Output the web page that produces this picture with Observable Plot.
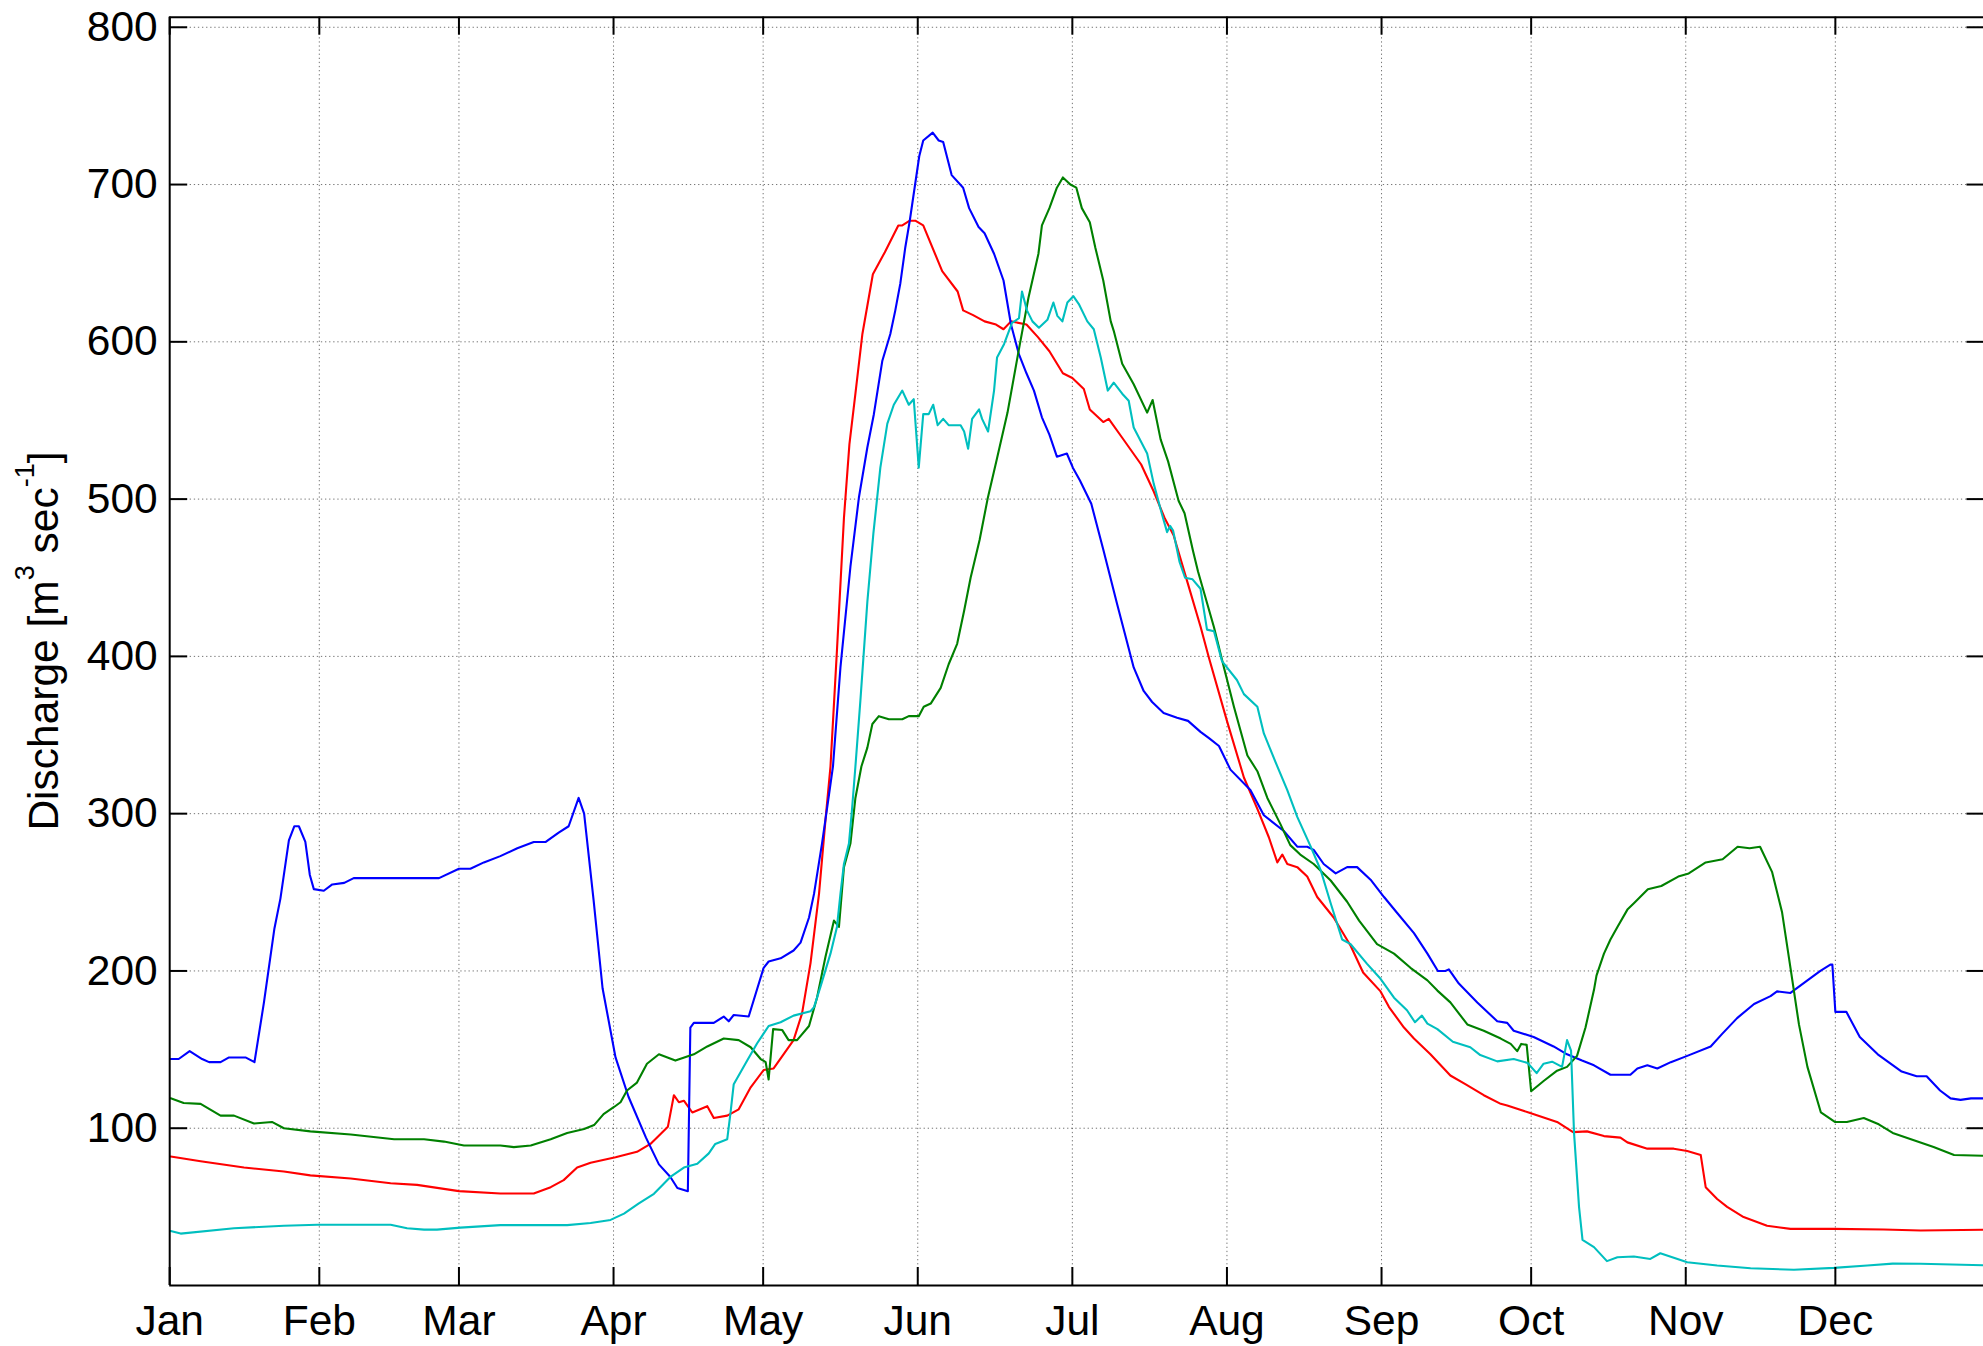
<!DOCTYPE html>
<html>
<head>
<meta charset="utf-8">
<script src="https://cdn.jsdelivr.net/npm/d3@7"></script>
<script src="https://cdn.jsdelivr.net/npm/@observablehq/plot@0.6"></script>
<style>
  html, body { margin: 0; padding: 0; background: #fff; }
  svg { display: block; }
</style>
</head>
<body>
<script>
// ---- Data (day of year, discharge m3/s) ----
const monthTicks = [1, 31, 59, 90, 120, 151, 182, 213, 244, 274, 305, 335];
const monthLabels = ["Jan","Feb","Mar","Apr","May","Jun","Jul","Aug","Sep","Oct","Nov","Dec"];
const yTicks = [100, 200, 300, 400, 500, 600, 700, 800];
const seriesNames = ["Series 1", "Series 2", "Series 3", "Series 4"];

const s1Days = [1.2,2.8,5,7.5,8.9,11.2,12.9,16.2,18,19.9,22,23.2,24.9,26,26.9,28.2,29.1,29.9,31.9,33.6,36,37.9,55,59,61.3,64,67.3,70.7,74,76.4,79,81,83,84.1,86,87.8,90.4,93,96.5,99.1,101.4,102.8,104.9,105.4,106.1,110.1,112.1,113.1,114.1,117.1,120.1,121.1,123.5,126.1,127.5,129.2,130.2,131.8,133.2,134,135.5,137.5,139.2,140.9,142.2,143.9,145.5,146.5,147.5,148.5,149.4,151.3,152.1,154,155.2,156.1,157.8,160.1,161.3,163.2,164.4,166.3,168.2,169.7,171.3,172.8,174.3,175.9,177.4,178.9,180.9,182.1,183.5,185.8,188.2,191,194.3,196.3,198,200.3,203,205.2,207.7,209.4,211.4,213.7,217.7,220.4,224.4,227.1,229.1,230.4,232.4,234.8,237.1,239.1,241.8,244.5,247.1,250.5,253.2,255.3,256.8,257.5,259.5,263.2,267.2,269.2,270.5,274.5,278.5,281.2,284.2,286.6,289.9,293.9,295.3,297.3,299.3,302,305.3,310,312.3,315.3,318.7,322,323.3,326,329.4,332,334,334.4,335,337.2,339.9,343.5,348.3,351.3,353.3,356,358.1,360.1,362.2,365];
const s1Values = [144,144,149,144,142,142,145,145,142,180,227,246,283,292,292,282,261,252,251,255,256,259,259,265,265,269,273,278,282,282,288,292,310,300,245,189,145,120,94,77,69,62,60,164,167,167,171,168,172,171,202,206,208,213,218,234,249,281,312,330,393,457,501,533,554,588,605,620,637,660,677,718,728,733,728,727,706,698,685,673,669,656,639,611,592,580,569,552,541,527,529,520,512,497,468,433,393,378,371,364,361,359,352,348,343,328,315,299,289,279,279,277,268,262,266,266,258,247,237,224,211,200,200,201,192,180,168,167,162,158,152,147,143,140,134,134,138,140,138,142,146,152,160,170,179,184,187,186,194,200,204,204,174,174,158,147,136,133,133,124,119,118,119,119];

const s2Days = [1.2,7.2,15.9,23.9,29.2,37.3,45.3,50.6,59,67.3,74,77.4,80,82.7,85.4,90.4,94.7,97.4,100.9,102.1,103.1,104.1,105.8,108.8,110.1,112.8,115.1,117.5,120.1,122.1,126.1,127.8,129.5,131.2,132.5,133.5,134.8,136.2,137.3,138.5,139.9,142,144.4,147.1,147.9,149.4,150.5,152.1,155.9,159,160.1,162.1,164.4,166.7,168.2,169.7,172.8,175.1,177.4,180.1,182,184.3,185.5,188.2,189.3,192,195.8,198.3,200.5,202.3,205,207.7,209.4,213,216.4,219.1,221.4,223.1,224.1,225.1,227.1,229.1,231.1,234.4,237.8,240.3,243.8,245.5,248.5,250.5,253.8,257.8,260.8,264.5,267.9,269.2,273.5,279.2,282.4,285.2,288.6,291.9,293.3,297.3,302.6,305.3,308,309,311.3,313.3,316.6,321.3,326,334.7,344.7,352.1,365];
const s2Values = [82,79,75,72.5,70,68,65,64,60,58.5,58.5,62.5,67,75,78,81.5,85,90,101,121,116.5,117.5,110,114,106.5,108,112,126,137,138,156,173,205,249,296,330,404,488,535,567,605,643,657,674,674,677,677,674,645,632,620,617,613,611,608,613,611,603,594,580,577,570,557,549,551,539,522,505,488,477,448,419,399,359,323,303,285,269,274,268,266,260,247,234,216,199,187,177,164,157,147,133.5,128,121,115.5,114.4,110,104,97.5,98,95,94,91,87,87,85.5,83,62.5,55,50,43.5,38,36,36,35.6,35,35.5];

const s3Days = [1.2,3.8,7.2,11.2,13.9,17.9,21.5,23.9,29.2,37.3,46,52,56,60,67.3,70,73.4,77.4,80.7,84.1,86.1,88,90.1,91.4,92.7,94.7,96.7,99.1,102.4,106.1,108.8,112.1,115.1,117.5,119.5,120.5,121.1,122,123.8,125.1,126.8,129.2,130.8,132.5,134.2,135.2,136.2,137.5,138.5,139.7,140.9,141.9,143.2,145.2,147.9,149.2,151.2,152.2,153.6,155.6,157.2,158.9,160.3,161.6,163.4,165,166.9,169,171.1,173.2,175.2,175.9,177.4,178.9,180.1,181.6,182.8,183.9,185.5,186.6,188.2,189.7,190.3,192,194.3,197,198.1,199.7,201.2,203.3,204.5,206.2,207.2,210.4,212.4,214.4,217.1,219.1,221.1,223.7,225.7,227.7,230.4,233.8,237.1,239.5,243.1,246.5,249.8,253.2,255.2,257.8,261.2,264.5,267.9,269.9,271.2,272,273.1,274,276.5,279.2,281.2,283.2,284.9,286.6,287.1,288.6,289.9,291.3,293.3,294.6,297.4,300.1,303.5,305.6,309,312.4,315.4,317.8,319.9,322.3,324.3,326,327.7,329.4,332.1,334.9,337.3,340.7,343.7,346.5,350.6,354.7,358.8,365];
const s3Values = [119,116,115.5,108,108,103,104,100,98,96,93,93,91.5,89,89,88,89,93,97,99.5,102,109,113.5,116.5,124,129,141,147,143,147,152,157,156,151.5,144,142,131,163,162.5,156,156,165,183,209,232,228,266,281,310,330,342,357,362,360,360,362,362,368,370,380,395,408,429,450,474,500,526,555,592,628,656,674,685,698,704.5,700,698,685,676,660,639,613,607,586,573,555,563,538,524,499,491,467,454,418.5,393,368,337,327,310,293.5,280,274,268,257.5,244,232,217,211,202,194,187.5,180,166,162,157,153.6,149,153.6,153,123.5,130,136.6,139,146,164,188,197,211,220,228,239,243,252,254,260,262,269,271,279,278,279,263,237.5,202,166,139,110,104,104,106.5,102.5,97,92.5,88,83,82.5];

const s4Days = [1.2,3.2,13.9,23.9,30.6,45.3,48.6,52,54.6,59.3,67.3,80.7,85.4,89.4,92.1,95,98.1,101.4,104.1,106.8,109.1,110.4,112.8,113.5,114.1,116.8,118.8,121.1,123.5,126.1,129.5,130.2,131.5,133.5,134.8,135.5,136.2,137.2,137.8,138.5,139.5,140.9,142.1,143.5,144.9,146.2,147.9,149.2,150.2,151.2,152.1,153.2,154.1,155,156.1,157.2,159.6,160.3,161.1,161.9,163.3,163.9,165.1,166.3,166.9,168.3,169.9,171.3,171.9,172.9,174,175.3,177,178.2,179,180,181,182.2,183.3,185,186.3,187.7,189.1,190.3,192,193.3,194.3,197,198.3,200,201,201.6,202.2,203.5,204.6,206.1,207.7,209,210.4,212,215,216.4,219.1,220.4,223.1,225.1,227.1,229.8,231.8,233.8,236.1,237.8,241.1,243.8,246.5,249.1,250.7,252.1,253.2,255.2,258.3,261.8,263.8,267.2,270.5,273.3,275.1,276.5,278.2,280.2,281.2,282,282.6,283.6,284.3,286.6,289.2,291.3,294.6,297.9,299.9,302.6,305.3,311.3,318,326.7,334.7,341.4,346.5,352.1,365];
const s4Values = [34.6,33,36.4,38,38.6,38.6,36.4,35.5,35.5,36.8,38.4,38.4,39.7,41.7,45.7,52,58.3,69,75,77.4,84,90,93,111,128,143,154,165,167.4,171.6,174.4,177,190,211,228,249,268,281,302,330,372,435,478,520,548,560,569,560,563.5,520,554,554,560,547,551,547,547,543,532,551,557,551,543,569,590,598.5,612,615,632,620,613,609,614,625,616.5,613,625,629,624,613,608,590,569,574,567,562.5,545.5,529,510,490,479,483,480,460,450,449,443,417,416,397,385,376,368,351,330,315,298,279,264,243,220,217,204.5,195,183,175,167.4,171.6,166.5,163,155,151.5,146.5,142.5,144,141.5,135,141,142.3,139,156,149.3,97,50,29,24.4,15.5,18,18.4,16.9,20.5,17.6,14.8,12.7,11,10,11.2,12.7,13.9,13.8,12.8];

// ---- Build table ----
const rows = [];
[[s1Days, s1Values], [s2Days, s2Values], [s3Days, s3Values], [s4Days, s4Values]]
  .forEach(([days, vals], k) => days.forEach((d, i) => rows.push({series: seriesNames[k], day: d, value: vals[i]})));
const drawOrder = ["Series 2", "Series 1", "Series 3", "Series 4"];
rows.sort((a, b) => drawOrder.indexOf(a.series) - drawOrder.indexOf(b.series));

// ---- Layout ----
const W = 1983, H = 1346;
const plotLeft = 169.2, plotTop = 16.7, plotBottom = 1285;
const xDomain = [1, 365], yDomain = [0, 806.4];
const xRange = [plotLeft, plotLeft + 364 * 4.987];
const pxPerY = (plotBottom - plotTop) / (yDomain[1] - yDomain[0]);
const pxPerX = (xRange[1] - xRange[0]) / (xDomain[1] - xDomain[0]);
const tickPx = 18;
const tY = tickPx / pxPerY, tX = tickPx / pxPerX;
const fontStack = "'Liberation Sans', Arial, Helvetica, sans-serif";
const fs = 42.5;

const gridStyle = {stroke: "#000", strokeOpacity: 0.55, strokeWidth: 1, strokeDasharray: "1.3,2.8"};

const chart = Plot.plot({
  width: W,
  height: H,
  marginLeft: plotLeft,
  marginTop: plotTop,
  marginBottom: H - plotBottom,
  marginRight: 0,
  style: {fontFamily: fontStack, fontSize: fs + "px", background: "#fff", color: "#000"},
  x: {type: "linear", domain: xDomain, range: xRange},
  y: {type: "linear", domain: yDomain},
  color: {type: "ordinal", domain: seriesNames, range: ["#0000ff", "#ff0000", "#008000", "#00bfbf"]},
  marks: [
    Plot.gridX(monthTicks.slice(1), gridStyle),
    Plot.gridY(yTicks, gridStyle),
    Plot.line(rows, {x: "day", y: "value", z: "series", stroke: "series", strokeWidth: 2.1, strokeLinejoin: "round"}),
    // frame
    Plot.ruleX([xDomain[0], xDomain[1]], {stroke: "#000", strokeWidth: 2}),
    Plot.ruleY([yDomain[0], yDomain[1]], {stroke: "#000", strokeWidth: 2}),
    // inward ticks
    Plot.ruleX(monthTicks, {x: d => d, y1: yDomain[0], y2: yDomain[0] + tY, stroke: "#000", strokeWidth: 2}),
    Plot.ruleX(monthTicks, {x: d => d, y1: yDomain[1] - tY, y2: yDomain[1], stroke: "#000", strokeWidth: 2}),
    Plot.ruleY(yTicks, {y: d => d, x1: xDomain[0], x2: xDomain[0] + tX, stroke: "#000", strokeWidth: 2}),
    Plot.ruleY(yTicks, {y: d => d, x1: xDomain[1] - tX, x2: xDomain[1], stroke: "#000", strokeWidth: 2}),
    // tick labels
    Plot.axisX(monthTicks, {tickSize: 0, tickPadding: 19, tickFormat: d => monthLabels[monthTicks.indexOf(d)], label: null, fontSize: fs}),
    Plot.axisY(yTicks, {tickSize: 0, tickPadding: 12, tickFormat: d => String(d), label: null, fontSize: fs})
  ]
});

document.body.appendChild(chart);

// y-axis title with superscripts
const svgSel = d3.select(chart);
const titleText = svgSel.append("text")
  .attr("transform", "translate(58,641) rotate(-90)")
  .attr("text-anchor", "middle")
  .attr("fill", "#000")
  .style("font-family", fontStack)
  .style("font-size", fs + "px");
titleText.append("tspan").text("Discharge [m");
titleText.append("tspan").attr("dy", -24).style("font-size", "27px").text("3");
titleText.append("tspan").attr("dy", 24).text(" sec");
titleText.append("tspan").attr("dy", -24).style("font-size", "27px").text("-1");
titleText.append("tspan").attr("dy", 24).text("]");
</script>
</body>
</html>
